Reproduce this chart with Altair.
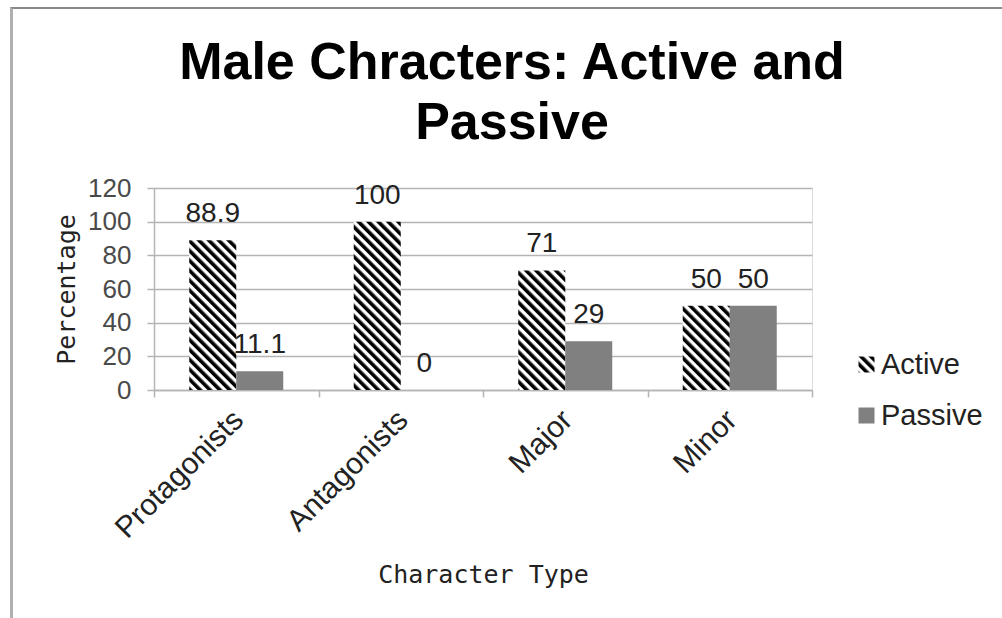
import altair as alt
import pandas as pd
import altair.utils.html as ahtml

categories = ["Protagonists", "Antagonists", "Major", "Minor"]
series = ["Active", "Passive"]
active_values = [88.9, 100, 71, 50]
passive_values = [11.1, 0, 29, 50]
y_ticks = [0, 20, 40, 60, 80, 100, 120]

rows = []
for c, a, p in zip(categories, active_values, passive_values):
    rows.append({"category": c, "series": "Active", "value": a})
    rows.append({"category": c, "series": "Passive", "value": p})
df = pd.DataFrame(rows)

GRID = "#b4b4b4"
TXT = "#222222"
TICKTXT = "#4a4a4a"

x_enc = alt.X(
    "category:N",
    sort=categories,
    scale=alt.Scale(paddingInner=0, paddingOuter=0),
    axis=alt.Axis(
        title="Character Type",
        titleFont="DejaVu Sans Mono",
        titleFontSize=25,
        titleFontWeight="normal",
        titleColor=TXT,
        titleY=192,
        titleBaseline="alphabetic",
        labelAngle=-45,
        labelAlign="right",
        labelBaseline="middle",
        labelFont="Liberation Sans",
        labelFontSize=30,
        labelColor=TXT,
        labelPadding=18,
        labelOffset=2,
        tickBand="extent",
        tickSize=7,
        tickColor=GRID,
        tickWidth=1.5,
        domainColor=GRID,
        domainWidth=1.5,
        grid=False,
    ),
)
xo_enc = alt.XOffset(
    "series:N", sort=series, scale=alt.Scale(paddingInner=0, paddingOuter=0.75)
)
y_enc = alt.Y(
    "value:Q",
    scale=alt.Scale(domain=[0, 120], nice=False),
    axis=alt.Axis(
        values=y_ticks,
        title="Percentage",
        titleFont="DejaVu Sans Mono",
        titleFontSize=25,
        titleFontWeight="normal",
        titleColor=TXT,
        titleX=-80,
        titleY=101,
        titleAngle=-90,
        titleAlign="center",
        titleBaseline="alphabetic",
        labelFont="Liberation Sans",
        labelFontSize=26,
        labelColor=TICKTXT,
        labelPadding=16,
        tickSize=7,
        tickColor=GRID,
        tickWidth=1.5,
        domainColor=GRID,
        domainWidth=1.5,
        grid=True,
        gridColor=GRID,
        gridWidth=1.5,
    ),
)

bars = alt.Chart(df).mark_bar(strokeWidth=0).encode(
    x=x_enc,
    xOffset=xo_enc,
    y=y_enc,
    color=alt.Color(
        "series:N",
        sort=series,
        scale=alt.Scale(domain=series, range=["url(#hatch)", "#808080"]),
        legend=alt.Legend(
            title=None,
            orient="none",
            legendX=698,
            legendY=162,
            symbolType="square",
            symbolSize=256,
            symbolStrokeWidth=0,
            labelFont="Liberation Sans",
            labelFontSize=29,
            labelColor=TXT,
            labelOffset=0,
            rowPadding=21,
            padding=0,
        ),
    ),
)

labels = alt.Chart(df).mark_text(
    dy=-18, baseline="alphabetic", fontSize=28, font="Liberation Sans", color=TXT
).encode(
    x=x_enc,
    xOffset=xo_enc,
    y=y_enc,
    text=alt.Text("value:Q"),
)

chart = (
    alt.layer(bars, labels)
    .properties(
        width=658,
        height=202,
        autosize=alt.AutoSizeParams(type="none"),
        padding={"left": 154, "top": 188, "right": 190, "bottom": 228},
        title=alt.TitleParams(
            ["Male Chracters: Active and", "Passive"],
            font="Liberation Sans",
            fontSize=52,
            fontWeight="bold",
            color="#000000",
            anchor="middle",
            dx=29,
            lineHeight=60,
            offset=25,
        ),
    )
    .configure_view(stroke=None)
    .configure(background="white")
)

EXTRA = (
    '<svg width="0" height="0" style="position:absolute;left:0;top:0">'
    '<defs><pattern id="hatch" patternUnits="userSpaceOnUse" width="7" height="7" '
    'patternTransform="rotate(-45)">'
    '<rect x="0" y="0" width="7" height="7" fill="#ffffff"/>'
    '<rect x="0" y="0" width="3.6" height="7" fill="#000000"/>'
    '</pattern></defs></svg>'
    '<div style="position:absolute;left:10px;top:7px;width:992px;height:611px;'
    'border-top:2px solid #8a8a8a;border-left:3px solid #b0b0b0;'
    'pointer-events:none;z-index:5"></div>'
)


class PatternTemplate:
    def render(self, **kw):
        html = ahtml.HTML_TEMPLATE.render(**kw)
        return html.replace("<body>", "<body>" + EXTRA, 1)


chart.save(
    "out.html",
    embed_options={"renderer": "svg", "actions": False},
    template=PatternTemplate(),
)
